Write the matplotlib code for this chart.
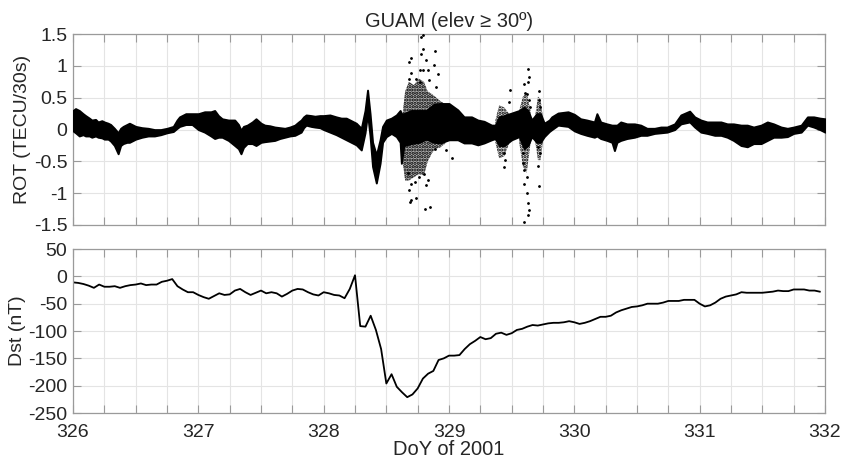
import numpy as np
import matplotlib
matplotlib.use('Agg')
import matplotlib.pyplot as plt
from matplotlib.ticker import MultipleLocator, FuncFormatter

plt.rcParams['font.family'] = ['Liberation Sans', 'DejaVu Sans']
plt.rcParams['axes.unicode_minus'] = False
plt.rcParams['hatch.linewidth'] = 1.6

# ---- ROT band (upper / lower envelope of all satellite tracks) ----
rot_t = [326.00, 326.02, 326.05, 326.08, 326.10, 326.13, 326.15, 326.18, 326.20, 326.23,
         326.25, 326.28, 326.30, 326.33, 326.36, 326.38, 326.40, 326.43, 326.45, 326.48,
         326.50, 326.55, 326.60, 326.65, 326.70, 326.75, 326.80, 326.83, 326.85, 326.90,
         326.95, 327.00, 327.05, 327.10, 327.13, 327.16, 327.19, 327.24, 327.29, 327.32,
         327.34, 327.36, 327.39, 327.43, 327.46, 327.50, 327.53, 327.57, 327.61, 327.65,
         327.69, 327.73, 327.77, 327.80, 327.82, 327.84, 327.86, 327.90, 327.93, 327.97,
         328.00, 328.05, 328.10, 328.14, 328.18, 328.22, 328.26, 328.30, 328.33, 328.35,
         328.37, 328.39, 328.42, 328.45, 328.47, 328.50, 328.54, 328.58, 328.61, 328.62,
         328.64, 328.70, 328.76, 328.82, 328.88, 328.93, 329.00, 329.07, 329.12, 329.18,
         329.23, 329.28, 329.34, 329.37, 329.40, 329.44, 329.50, 329.56, 329.60, 329.63,
         329.66, 329.70, 329.73, 329.76, 329.80, 329.82, 329.87, 329.91, 329.95, 330.00,
         330.05, 330.10, 330.16, 330.18, 330.21, 330.26, 330.30, 330.32, 330.34, 330.37,
         330.42, 330.48, 330.53, 330.58, 330.64, 330.69, 330.74, 330.80, 330.85, 330.92,
         330.96, 331.01, 331.06, 331.12, 331.17, 331.22, 331.27, 331.33, 331.38, 331.43,
         331.49, 331.54, 331.59, 331.65, 331.70, 331.75, 331.81, 331.86, 331.91, 331.96,
         332.00]
rot_hi = [0.30, 0.33, 0.30, 0.25, 0.22, 0.18, 0.15, 0.16, 0.12, 0.14,
          0.12, 0.10, 0.08, 0.02, -0.05, 0.02, 0.05, 0.08, 0.10, 0.07,
          0.05, 0.03, 0.02, 0.00, 0.00, 0.02, 0.05, 0.15, 0.20, 0.25,
          0.25, 0.25, 0.28, 0.28, 0.30, 0.22, 0.17, 0.15, 0.15, 0.08,
          -0.01, 0.05, 0.07, 0.12, 0.17, 0.10, 0.07, 0.06, 0.04, 0.03,
          0.02, 0.04, 0.07, 0.12, 0.15, 0.20, 0.23, 0.22, 0.21, 0.22,
          0.22, 0.23, 0.20, 0.18, 0.18, 0.14, 0.10, 0.02, 0.30, 0.62,
          0.25, -0.20, -0.40, -0.16, 0.05, 0.15, 0.18, 0.23, 0.30, 0.25,
          0.25, 0.30, 0.30, 0.30, 0.40, 0.41, 0.41, 0.31, 0.20, 0.20,
          0.15, 0.13, 0.07, 0.07, 0.20, 0.22, 0.26, 0.30, 0.35, 0.30,
          0.15, 0.25, 0.25, 0.10, 0.15, 0.20, 0.26, 0.27, 0.28, 0.24,
          0.17, 0.15, 0.12, 0.25, 0.12, 0.09, 0.07, 0.07, 0.07, 0.12,
          0.09, 0.09, 0.07, 0.02, 0.02, 0.04, 0.04, 0.09, 0.23, 0.29,
          0.20, 0.15, 0.12, 0.12, 0.12, 0.09, 0.09, 0.07, 0.07, 0.04,
          0.07, 0.12, 0.09, 0.04, 0.02, 0.04, 0.07, 0.20, 0.20, 0.18,
          0.17]
rot_lo = [-0.02, -0.05, -0.10, -0.08, -0.10, -0.10, -0.12, -0.10, -0.12, -0.13,
          -0.15, -0.15, -0.18, -0.25, -0.38, -0.25, -0.22, -0.20, -0.20, -0.17,
          -0.15, -0.12, -0.10, -0.10, -0.08, -0.05, -0.03, 0.02, 0.05, 0.08,
          0.08, 0.00, -0.04, -0.10, -0.14, -0.12, -0.12, -0.17, -0.25, -0.30,
          -0.38, -0.28, -0.22, -0.22, -0.25, -0.20, -0.19, -0.18, -0.17, -0.14,
          -0.12, -0.10, -0.09, -0.06, -0.04, 0.03, 0.07, 0.05, 0.04, 0.03,
          0.00, -0.04, -0.08, -0.12, -0.16, -0.20, -0.24, -0.32, -0.05, 0.25,
          -0.10, -0.58, -0.84, -0.53, -0.20, -0.11, -0.06, -0.11, -0.20, -0.53,
          -0.25, -0.22, -0.20, -0.15, -0.20, -0.21, -0.16, -0.16, -0.21, -0.21,
          -0.24, -0.21, -0.16, -0.14, -0.25, -0.25, -0.16, -0.11, -0.30, -0.25,
          -0.11, -0.20, -0.20, -0.11, -0.03, 0.00, 0.07, 0.06, 0.05, -0.02,
          -0.06, -0.09, -0.12, -0.10, -0.14, -0.17, -0.20, -0.33, -0.20, -0.17,
          -0.14, -0.12, -0.09, -0.09, -0.06, -0.05, -0.04, 0.00, 0.09, 0.12,
          0.04, -0.04, -0.06, -0.09, -0.09, -0.12, -0.17, -0.25, -0.27, -0.22,
          -0.22, -0.17, -0.12, -0.12, -0.11, -0.06, -0.04, 0.07, 0.04, 0.00,
          -0.04]

# scintillation clouds (dense scatter) during the storm
cloud1_t = [328.63, 328.65, 328.68, 328.72, 328.76, 328.80, 328.83, 328.87, 328.90, 328.93, 328.97]
cloud1_hi = [0.25, 0.60, 0.75, 0.70, 0.80, 0.75, 0.60, 0.55, 0.50, 0.45, 0.40]
cloud1_lo = [-0.50, -0.80, -0.80, -0.75, -0.70, -0.72, -0.50, -0.35, -0.30, -0.28, -0.22]
cloud2_t = [329.37, 329.40, 329.44, 329.48]
cloud2_hi = [0.15, 0.38, 0.35, 0.25]
cloud2_lo = [-0.20, -0.45, -0.42, -0.22]
cloud3_t = [329.56, 329.59, 329.62, 329.65]
cloud3_hi = [0.30, 0.52, 0.58, 0.30]
cloud3_lo = [-0.20, -0.58, -0.68, -0.22]
cloud4_t = [329.69, 329.71, 329.73, 329.75]
cloud4_hi = [0.25, 0.52, 0.48, 0.18]
cloud4_lo = [-0.22, -0.48, -0.48, -0.18]

# isolated ROT samples outside the clouds
spike_t = [328.78, 328.79, 328.79, 328.78, 328.70, 328.68, 328.82, 328.89, 328.77, 328.79,
           328.83, 328.70, 328.74, 328.88, 328.91, 328.84, 328.68, 328.77, 328.90, 328.70,
           328.69, 328.74, 328.81, 328.85, 328.68, 328.70, 328.73, 328.82, 328.83, 328.67,
           328.76, 328.80, 328.89, 329.02, 328.98,
           329.49, 329.48, 329.44, 329.44, 329.45, 329.63, 329.64, 329.63, 329.61, 329.62,
           329.64, 329.65, 329.59, 329.59, 329.60, 329.62, 329.60, 329.62, 329.63, 329.64,
           329.63, 329.60, 329.72, 329.72, 329.73, 329.71, 329.72, 329.71, 329.73, 329.60]
spike_v = [1.46, 1.48, 1.27, 1.19, 1.12, 1.06, 1.09, 1.23, 0.93, 0.93,
           0.93, 0.89, 0.80, 1.01, 0.88, 0.78, 0.80, 0.75, 0.67, -1.11,
           -1.14, -1.07, -1.25, -1.22, -0.95, -0.85, -0.82, -0.87, -0.79, -0.69,
           -0.74, -0.70, -0.30, -0.45, -0.32,
           0.62, 0.44, -0.37, -0.59, -0.48, 0.96, 0.83, 0.75, 0.57, 0.56,
           0.46, 0.36, -0.37, -0.53, -0.64, -0.74, -0.85, -1.00, -1.16, -1.26,
           -1.34, -1.45, 0.60, 0.46, 0.36, -0.58, -0.88, -0.27, -0.37, 0.72]

# ---- hourly Dst index, DoY 326 00UT onwards ----
dst = [-11, -12, -14, -17, -21, -15, -19, -19, -18, -21,
       -18, -16, -15, -13, -16, -15, -15, -10, -8, -5,
       -18, -24, -29, -29, -34, -38, -41, -36, -31, -34,
       -33, -26, -23, -29, -34, -30, -26, -31, -29, -31,
       -37, -32, -26, -23, -24, -29, -33, -35, -29, -31,
       -34, -35, -40, -23, 2, -91, -92, -72, -98, -133,
       -196, -179, -202, -212, -221, -216, -205, -187, -178, -173,
       -153, -150, -145, -145, -144, -133, -124, -118, -111, -115,
       -113, -105, -103, -107, -104, -98, -96, -92, -89, -90,
       -88, -86, -85, -85, -84, -82, -84, -87, -85, -82,
       -78, -74, -74, -72, -66, -62, -59, -56, -55, -53,
       -50, -50, -50, -48, -45, -45, -45, -43, -43, -43,
       -50, -55, -53, -48, -41, -37, -35, -33, -29, -30,
       -30, -30, -30, -29, -28, -26, -27, -27, -24, -24,
       -24, -26, -26, -28]
dst_t = 326 + np.arange(len(dst)) / 24.0

frame_col = '#9a9a9a'
text_col = '#262626'

fig = plt.figure(figsize=(8.52, 4.62), dpi=100)
axR = fig.add_axes([0.0857, 0.513, 0.8826, 0.413])
axD = fig.add_axes([0.0857, 0.106, 0.8826, 0.355])

for ax in (axR, axD):
    ax.set_xlim(326, 332)
    ax.xaxis.set_major_locator(MultipleLocator(0.25))
    ax.grid(True, color='#e4e4e4', linewidth=0.8)
    ax.set_axisbelow(True)
    ax.tick_params(direction='in', length=6, width=0.8, color=frame_col,
                   top=True, right=True, labelsize=14, labelcolor=text_col)
    ax.tick_params(axis='y', pad=4)
    ax.tick_params(axis='x', pad=8)
    for s in ax.spines.values():
        s.set_color(frame_col)
        s.set_linewidth(0.9)

# ROT panel: speckled clouds first, solid band of tracks on top
clouds = ((cloud1_t, cloud1_hi, cloud1_lo, '#b4b4b4'),
          (cloud2_t, cloud2_hi, cloud2_lo, '#dcdcdc'),
          (cloud3_t, cloud3_hi, cloud3_lo, '#dcdcdc'),
          (cloud4_t, cloud4_hi, cloud4_lo, '#dcdcdc'))
for ct, chi, clo, fc in clouds:
    axR.fill_between(ct, clo, chi, facecolor=fc, edgecolor='black',
                     hatch='.....', linewidth=0, zorder=2)
axR.fill_between(rot_t, rot_lo, rot_hi, color='black', linewidth=1.4,
                 edgecolor='black', zorder=3)
axR.plot(spike_t, spike_v, '.', color='black', markersize=2.0, zorder=4)
axR.set_ylim(-1.5, 1.5)
axR.yaxis.set_major_locator(MultipleLocator(0.5))
axR.yaxis.set_major_formatter(FuncFormatter(lambda v, p: '%g' % v))
axR.tick_params(labelbottom=False)
axR.set_ylabel('ROT (TECU/30s)', fontsize=14, color=text_col, labelpad=2)
axR.set_title('GUAM (elev \u2265 30\u00ba)', fontsize=14.5, color=text_col, pad=5)

# Dst panel
axD.plot(dst_t, dst, color='black', linewidth=1.3)
axD.set_ylim(-250, 50)
axD.yaxis.set_major_locator(MultipleLocator(50))
axD.xaxis.set_major_formatter(FuncFormatter(
    lambda v, p: '%d' % round(v) if abs(v - round(v)) < 1e-6 else ''))
axD.set_ylabel('Dst (nT)', fontsize=14, color=text_col, labelpad=2)
axD.set_xlabel('DoY of 2001', fontsize=14.5, color=text_col, labelpad=-1)

fig.savefig('out.png', dpi=100)
